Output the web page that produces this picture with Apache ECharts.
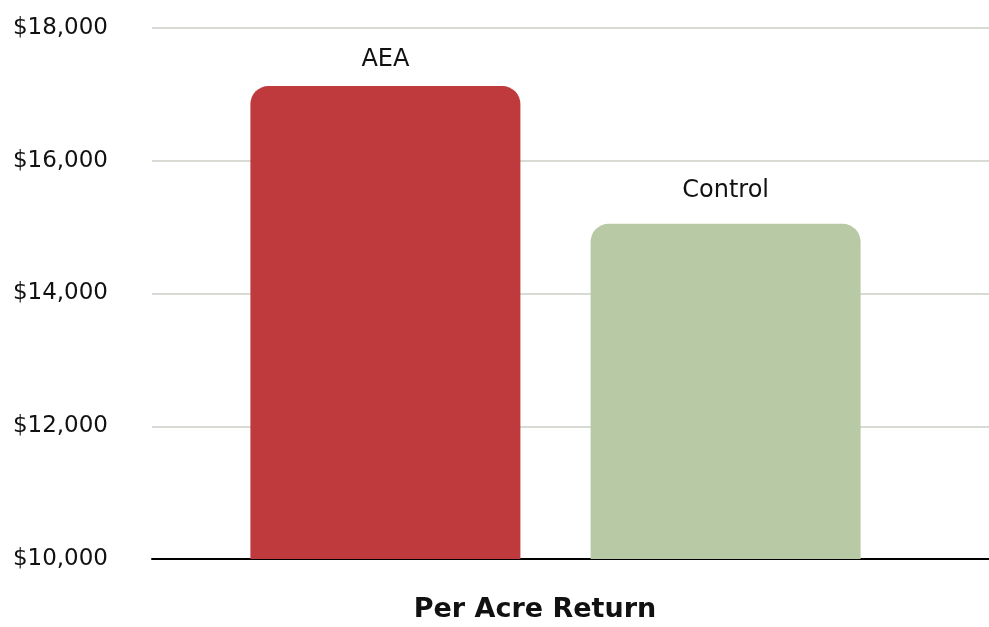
<!DOCTYPE html>
<html>
<head>
<meta charset="utf-8">
<script src="https://cdn.jsdelivr.net/npm/echarts@6/dist/echarts.min.js"></script>
<style>
  html, body { margin: 0; padding: 0; background: #ffffff; }
  #chart { width: 989px; height: 627px; }
</style>
</head>
<body>
<div id="chart"></div>
<script>
// Per-acre return, AEA vs. control plots
const categories = ['Per Acre Return'];
const seriesNames = ['AEA', 'Control'];
const returnValues = [17125, 15050];
const barColors = ['#bf3a3c', '#b7c9a5'];
const yMin = 10000;
const yMax = 18000;
const yStep = 2000;

const FONT = '"DejaVu Sans", "Noto Sans", sans-serif';

const chart = echarts.init(document.getElementById('chart'), null, { renderer: 'canvas' });

const money = v => '$' + v.toLocaleString('en-US');

const option = {
  backgroundColor: '#ffffff',
  animation: false,
  grid: [
    { left: 152, right: 0, top: 28, bottom: 68 },
    { left: 152, right: 30, top: 28, bottom: 68 }
  ],
  xAxis: [
    {
      type: 'category', gridIndex: 0, data: categories,
      axisLine: { show: true, lineStyle: { color: '#000000', width: 2 } },
      axisTick: { show: false },
      axisLabel: { show: false }
    },
    {
      type: 'category', gridIndex: 1, data: categories,
      axisLine: { show: false }, axisTick: { show: false }, axisLabel: { show: false }
    }
  ],
  yAxis: [
    {
      type: 'value', gridIndex: 0, min: yMin, max: yMax, interval: yStep,
      axisLine: { show: false }, axisTick: { show: false },
      axisLabel: {
        formatter: money, color: '#111111', fontFamily: FONT, fontSize: 23,
        margin: 44, padding: [0, 0, 8, 0]
      },
      splitLine: { show: true, lineStyle: { color: '#d8dbd4', width: 2 } }
    },
    {
      type: 'value', gridIndex: 1, min: yMin, max: yMax, interval: yStep,
      axisLine: { show: false }, axisTick: { show: false },
      axisLabel: { show: false }, splitLine: { show: false }
    }
  ],
  series: seriesNames.map((name, i) => ({
    name: name,
    type: 'bar',
    xAxisIndex: 1,
    yAxisIndex: 1,
    barWidth: 270,
    barGap: '26%',
    itemStyle: { color: barColors[i], borderRadius: [18, 18, 0, 0] },
    label: {
      show: true, position: 'top', distance: i === 0 ? 14 : 21,
      formatter: '{a}', color: '#111111', fontFamily: FONT, fontSize: 24
    },
    data: [returnValues[i]]
  })),
  graphic: [
    {
      type: 'text', x: 535, y: 610,
      style: {
        text: categories[0], fill: '#111111', font: 'bold 27px ' + FONT,
        textAlign: 'center', textVerticalAlign: 'middle'
      }
    }
  ]
};

chart.setOption(option);
</script>
</body>
</html>
